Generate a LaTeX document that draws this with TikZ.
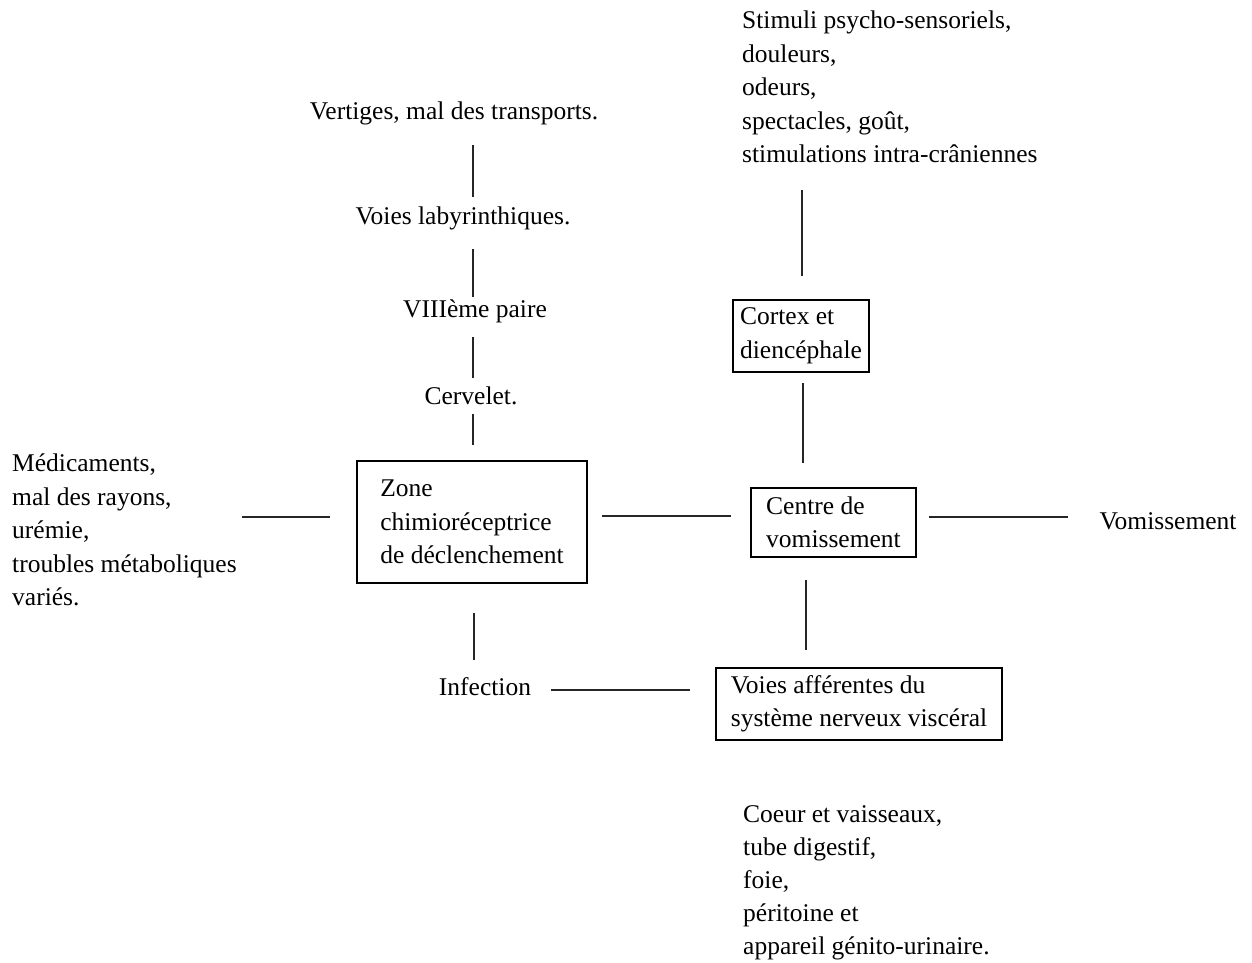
\documentclass[tikz,border=0pt]{standalone}
\usepackage{fontspec}
\setmainfont{Liberation Serif}
\begin{document}
\begin{tikzpicture}[x=1pt,y=-1pt,
  txt/.style={inner sep=0pt,font=\fontsize{25.5}{33.5}\selectfont},
  blk/.style={txt,align=left,anchor=north west},
  boxn/.style={draw,line width=1.3pt,inner sep=0pt,align=left,font=\fontsize{25.5}{33.5}\selectfont},
  conn/.style={line width=1.1pt,black!85}]
\useasboundingbox (0,0) rectangle (1252,962);
% text labels
\node[txt] (vert) at (454,113) {Vertiges, mal des transports.};
\node[txt] (lab) at (463,218) {Voies labyrinthiques.};
\node[txt] (paire) at (475,311) {VIIIème paire};
\node[txt] (cerv) at (471,396) {Cervelet.};
\node[txt] (inf) at (485,687) {Infection};
\node[txt] (vom) at (1168,521) {Vomissement};
\node[blk] (medic) at (12,454) {Médicaments,\\mal des rayons,\\urémie,\\troubles métaboliques\\variés.};
\node[blk] (stim) at (742,11) {Stimuli psycho-sensoriels,\\douleurs,\\odeurs,\\spectacles, goût,\\stimulations intra-crâniennes};
\node[blk,font=\fontsize{25.5}{33}\selectfont] (coeur) at (743,805) {Coeur et vaisseaux,\\tube digestif,\\foie,\\péritoine et\\appareil génito-urinaire.};
% boxes
\node[boxn,minimum width=230,minimum height=122] (zone) at (472,522) {Zone\\chimioréceptrice\\de déclenchement};
\node[boxn,minimum width=165,minimum height=69] (centre) at (833.5,522.5) {Centre de\\vomissement};
\node[boxn,minimum width=136,minimum height=72] (cortex) at (801,336) {Cortex et\\diencéphale};
\node[boxn,minimum width=286,minimum height=72] (aff) at (859,704) {Voies afférentes du\\système nerveux viscéral};
% connector end points
\coordinate (a1) at (473,145); \coordinate (a2) at (473,197);
\coordinate (b1) at (473,249); \coordinate (b2) at (473,297);
\coordinate (c1) at (473,337); \coordinate (c2) at (473,378);
\coordinate (d1) at (473,414); \coordinate (d2) at (473,445);
\coordinate (e1) at (242,517); \coordinate (e2) at (330,517);
\coordinate (f1) at (602,516); \coordinate (f2) at (731,516);
\coordinate (g1) at (929,517); \coordinate (g2) at (1068,517);
\coordinate (h1) at (802,190); \coordinate (h2) at (802,276);
\coordinate (i1) at (803,383); \coordinate (i2) at (803,463);
\coordinate (j1) at (806,580); \coordinate (j2) at (806,650);
\coordinate (k1) at (551,690); \coordinate (k2) at (690,690);
\coordinate (m1) at (474,613); \coordinate (m2) at (474,660);
\draw[conn] (a1) -- (a2);
\draw[conn] (b1) -- (b2);
\draw[conn] (c1) -- (c2);
\draw[conn] (d1) -- (d2);
\draw[conn] (e1) -- (e2);
\draw[conn] (f1) -- (f2);
\draw[conn] (g1) -- (g2);
\draw[conn] (h1) -- (h2);
\draw[conn] (i1) -- (i2);
\draw[conn] (j1) -- (j2);
\draw[conn] (k1) -- (k2);
\draw[conn] (m1) -- (m2);
\end{tikzpicture}
\end{document}
